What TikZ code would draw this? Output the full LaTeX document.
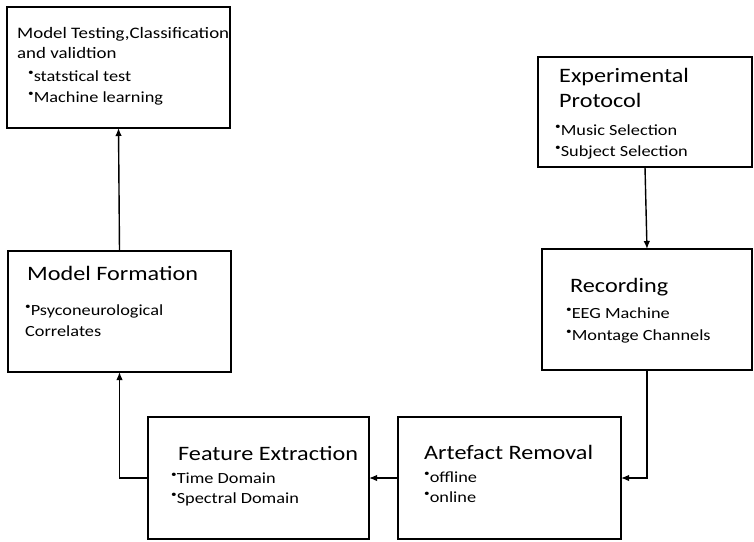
\documentclass[tikz,border=0pt]{standalone}
\usepackage{fontspec}
\setmainfont[FakeStretch=1.18]{Carlito}
\usetikzlibrary{arrows.meta}
\newcommand\bul{\raisebox{.36em}{\fontsize{9.5}{9.5}\selectfont\textbullet}}
\tikzset{
  box/.style={draw, line width=1.4pt, anchor=north west, inner sep=0pt, outer sep=0pt},
  txt/.style={anchor=base west, inner sep=0pt, text=black},
  ttl/.style={txt, font=\fontsize{20.5}{20.5}\selectfont},
  sub/.style={txt, font=\fontsize{16}{16}\selectfont},
  itm/.style={txt, font=\fontsize{15.5}{15.5}\selectfont},
  conn/.style={line width=1.4pt, -{Latex[length=8pt,width=6.5pt]}}
}
\begin{document}
\begin{tikzpicture}[x=1pt,y=-1pt]
\useasboundingbox[fill=white] (0,0) rectangle (754,541);
% boxes
\node[box, minimum width=223pt, minimum height=121pt] (test) at (7,7) {};
\node[box, minimum width=214pt, minimum height=110pt] (proto) at (538,57) {};
\node[box, minimum width=223pt, minimum height=121pt] (form) at (8,251) {};
\node[box, minimum width=210pt, minimum height=121pt] (rec) at (542,249) {};
\node[box, minimum width=221pt, minimum height=122pt] (feat) at (148,417) {};
\node[box, minimum width=223pt, minimum height=122pt] (art) at (398,417) {};
% texts
\node[sub] (t1) at (17,38) {Model Testing,Classification};
\node[sub] (t2) at (17,58) {and validtion};
\node[itm] (t3) at (28,81) {\bul statstical test};
\node[itm] (t4) at (28,102) {\bul Machine learning};

\node[ttl] (p1) at (559,82) {Experimental};
\node[ttl] (p2) at (559,107) {Protocol};
\node[itm] (p3) at (555,135) {\bul Music Selection};
\node[itm] (p4) at (555,156) {\bul Subject Selection};

\node[ttl] (f1) at (27,280) {Model Formation};
\node[itm] (f2) at (25,315) {\bul Psyconeurological};
\node[itm] (f3) at (25,336) {Correlates};

\node[ttl] (r1) at (570,292) {Recording};
\node[itm] (r2) at (566,318) {\bul EEG Machine};
\node[itm] (r3) at (566,340) {\bul Montage Channels};

\node[ttl] (e1) at (178,460) {Feature Extraction};
\node[itm] (e2) at (171,483) {\bul Time Domain};
\node[itm] (e3) at (171,503) {\bul Spectral Domain};

\node[ttl] (a1) at (424,459) {Artefact Removal};
\node[itm] (a2) at (424,482) {\bul offline};
\node[itm] (a3) at (424,502) {\bul online};
% connectors
\draw[conn] (proto.south) -- (rec.north);
\draw[conn] (rec.south) |- (art.east);
\draw[conn] (art.west) -- (feat.east);
\draw[conn] (feat.west) -| (form.south);
\draw[conn] (form.north) -- (test.south);
\end{tikzpicture}
\end{document}
